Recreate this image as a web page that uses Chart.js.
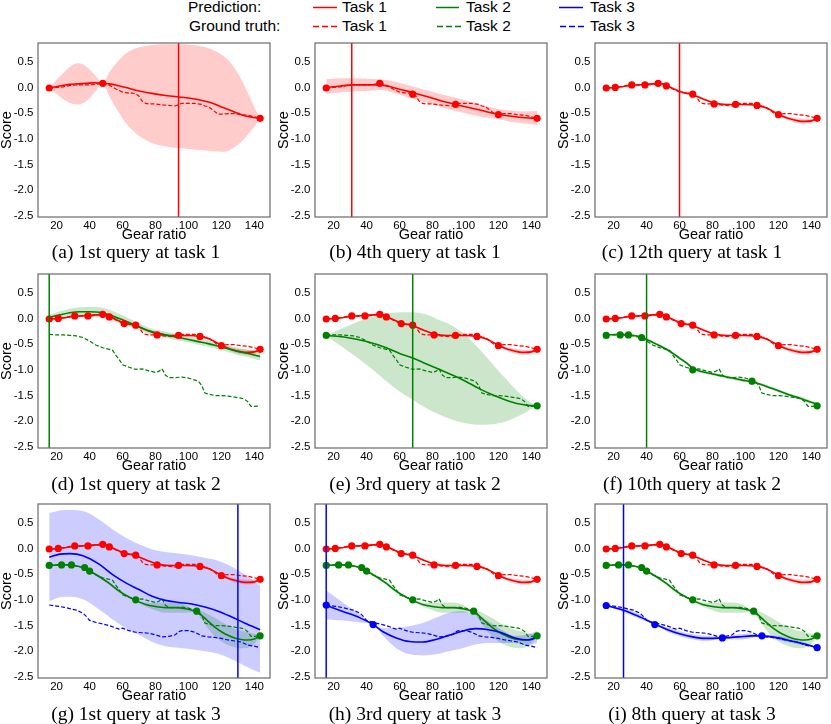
<!DOCTYPE html>
<html><head><meta charset="utf-8">
<script src="https://cdn.jsdelivr.net/npm/chart.js@4.4.1/dist/chart.umd.min.js"></script>
<style>
body{margin:0;width:831px;height:724px;overflow:hidden;background:#fff;position:relative;font-family:"Liberation Sans",Arial,sans-serif}
canvas{position:absolute}
.cap{position:absolute;font-family:"Liberation Serif","Times New Roman",serif;font-size:19.5px;line-height:1;transform:translate(-50%,-50%);white-space:nowrap;color:#000}
.leg{position:absolute;font-size:15.5px;line-height:1;transform:translateY(-50%);white-space:nowrap;color:#000}
svg{position:absolute}
</style></head><body>
<div class="leg" style="left:188px;top:7px">Prediction:</div>
<div class="leg" style="left:189px;top:26px">Ground truth:</div>
<div class="leg" style="left:342px;top:7px">Task 1</div>
<div class="leg" style="left:466px;top:7px">Task 2</div>
<div class="leg" style="left:590px;top:7px">Task 3</div>
<div class="leg" style="left:342px;top:26px">Task 1</div>
<div class="leg" style="left:466px;top:26px">Task 2</div>
<div class="leg" style="left:590px;top:26px">Task 3</div>
<svg style="left:0;top:0" width="831" height="36">
<line x1="313" y1="7.5" x2="337" y2="7.5" stroke="#ff0000" stroke-width="1.5"/>
<line x1="436" y1="7.5" x2="459" y2="7.5" stroke="#008000" stroke-width="1.5"/>
<line x1="559" y1="7.5" x2="583" y2="7.5" stroke="#0000ff" stroke-width="1.5"/>
<line x1="313" y1="26.5" x2="339" y2="26.5" stroke="#ff0000" stroke-width="1.5" stroke-dasharray="6,3"/>
<line x1="437" y1="26.5" x2="461" y2="26.5" stroke="#008000" stroke-width="1.5" stroke-dasharray="6,3"/>
<line x1="560" y1="26.5" x2="584" y2="26.5" stroke="#0000ff" stroke-width="1.5" stroke-dasharray="6,3"/>
</svg>
<script>
// ---------- axis ticks ----------
const xTicks = [20, 40, 60, 80, 100, 120, 140];
const yTicks = [-2.5, -2, -1.5, -1, -0.5, 0, 0.5];

// ---------- ground truth ----------
const gt1X = [15.5, 20, 24, 28, 32, 36, 40, 44, 48, 50, 52, 54, 56, 58, 60, 62, 64, 66, 68, 70, 72, 74, 76, 80, 84, 88, 92, 94, 96, 100, 104, 108, 110, 112, 114, 116, 118, 120, 124, 128, 132, 136, 140, 143.5];
const gt1Y = [-0.01, 0.0, 0.01, 0.04, 0.05, 0.05, 0.05, 0.06, 0.08, 0.07, 0.04, 0.01, -0.03, -0.06, -0.09, -0.1, -0.11, -0.11, -0.12, -0.17, -0.27, -0.31, -0.32, -0.32, -0.34, -0.35, -0.36, -0.33, -0.31, -0.31, -0.31, -0.33, -0.36, -0.37, -0.42, -0.47, -0.52, -0.52, -0.51, -0.51, -0.53, -0.54, -0.57, -0.6];
const gt2X = [15.5, 20, 24, 28, 32, 36, 40, 44, 48, 52, 54, 56, 58, 60, 64, 68, 72, 76, 80, 82, 84, 86, 88, 92, 96, 100, 104, 106, 108, 110, 112, 116, 120, 124, 128, 132, 134, 136, 138, 140, 143.5];
const gt2Y = [-0.31, -0.32, -0.32, -0.33, -0.34, -0.37, -0.44, -0.52, -0.57, -0.6, -0.62, -0.72, -0.8, -0.9, -0.95, -0.99, -0.98, -1.02, -1.05, -1.03, -0.98, -1.1, -1.15, -1.15, -1.14, -1.16, -1.2, -1.22, -1.3, -1.45, -1.47, -1.5, -1.5, -1.51, -1.53, -1.55, -1.57, -1.62, -1.71, -1.71, -1.7];
const gt3X = [15.5, 20, 24, 28, 32, 36, 38, 40, 44, 48, 52, 56, 58, 60, 64, 68, 72, 76, 80, 84, 88, 92, 94, 96, 100, 104, 108, 112, 116, 120, 124, 128, 132, 136, 140, 143.5];
const gt3Y = [-1.1, -1.12, -1.14, -1.17, -1.2, -1.26, -1.32, -1.4, -1.44, -1.47, -1.5, -1.55, -1.57, -1.55, -1.6, -1.63, -1.64, -1.65, -1.68, -1.72, -1.71, -1.68, -1.62, -1.6, -1.6, -1.63, -1.7, -1.72, -1.73, -1.75, -1.78, -1.8, -1.82, -1.88, -1.9, -1.93];

// ---------- task 1 predictions ----------
const predA1X = [15.5, 20, 24, 28, 33, 38, 43, 48, 52, 57, 62, 70, 77, 85, 93, 101, 109, 115, 121, 125, 129, 133, 137, 141, 143.5];
const predA1Y = [-0.01, 0.02, 0.04, 0.06, 0.07, 0.08, 0.09, 0.08, 0.07, 0.04, 0.0, -0.07, -0.11, -0.15, -0.18, -0.21, -0.26, -0.31, -0.39, -0.44, -0.49, -0.54, -0.57, -0.59, -0.6];
const predA1Up = [-0.01, 0.15, 0.28, 0.4, 0.47, 0.41, 0.25, 0.08, 0.3, 0.5, 0.66, 0.78, 0.82, 0.84, 0.84, 0.83, 0.79, 0.73, 0.62, 0.5, 0.33, 0.1, -0.17, -0.45, -0.6];
const predA1Lo = [-0.01, -0.12, -0.23, -0.3, -0.33, -0.27, -0.1, 0.08, -0.17, -0.45, -0.69, -0.94, -1.07, -1.14, -1.18, -1.2, -1.22, -1.24, -1.25, -1.22, -1.14, -1.03, -0.88, -0.72, -0.6];
const obsA1X = [15.5, 48, 143.5];
const obsA1Y = [-0.01, 0.08, -0.6];

const predB1X = [15.5, 24, 32, 40, 48, 56, 62, 68, 76, 84, 94, 102, 110, 120, 128, 136, 143.5];
const predB1Y = [0.0, 0.03, 0.05, 0.05, 0.05, 0.0, -0.05, -0.1, -0.17, -0.25, -0.33, -0.39, -0.45, -0.52, -0.56, -0.59, -0.6];
const predB1Up = [0.16, 0.18, 0.18, 0.17, 0.16, 0.12, 0.07, 0.02, -0.05, -0.12, -0.2, -0.27, -0.34, -0.42, -0.45, -0.47, -0.46];
const predB1Lo = [-0.12, -0.1, -0.08, -0.07, -0.05, -0.1, -0.16, -0.22, -0.29, -0.37, -0.46, -0.52, -0.57, -0.62, -0.67, -0.7, -0.73];
const obsB1X = [15.5, 48, 68, 94, 120, 143.5];
const obsB1Y = [-0.01, 0.08, -0.13, -0.33, -0.53, -0.6];

const pred1X = [15.5, 21, 26, 31, 35, 39, 44, 48, 52, 56, 61, 64, 68, 74, 81, 88, 94, 100, 107, 112, 116, 120, 124, 128, 132, 136, 140, 143.5];
const pred1Y = [-0.01, 0.0, 0.02, 0.04, 0.05, 0.06, 0.07, 0.08, 0.04, -0.02, -0.09, -0.11, -0.14, -0.22, -0.3, -0.33, -0.33, -0.33, -0.35, -0.39, -0.45, -0.52, -0.58, -0.62, -0.65, -0.66, -0.65, -0.6];
const pred1Up = [0.0, 0.01, 0.03, 0.05, 0.06, 0.07, 0.08, 0.09, 0.05, 0.0, -0.08, -0.09, -0.13, -0.2, -0.29, -0.31, -0.32, -0.31, -0.34, -0.37, -0.43, -0.51, -0.55, -0.58, -0.6, -0.61, -0.61, -0.59];
const pred1Lo = [-0.02, -0.01, 0.01, 0.03, 0.04, 0.05, 0.06, 0.07, 0.03, -0.04, -0.1, -0.13, -0.15, -0.24, -0.31, -0.35, -0.34, -0.35, -0.36, -0.41, -0.47, -0.53, -0.61, -0.66, -0.69, -0.7, -0.69, -0.61];
const obsC1X = [15.5, 21, 31, 39, 47, 52, 68, 81, 94, 107, 120, 143.5];
const obsC1Y = [-0.01, 0.0, 0.05, 0.05, 0.08, 0.03, -0.13, -0.32, -0.33, -0.35, -0.53, -0.6];
const obs1X = [15.5, 21, 31, 39, 48, 52, 61, 68, 81, 94, 107, 120, 143.5];
const obs1Y = [-0.01, 0.0, 0.05, 0.05, 0.08, 0.03, -0.1, -0.13, -0.32, -0.33, -0.35, -0.53, -0.6];

// ---------- task 2 predictions ----------
const predD2X = [15.5, 22, 28, 34, 40, 46, 52, 58, 64, 70, 76, 82, 88, 94, 100, 106, 112, 118, 124, 130, 136, 143.5];
const predD2Y = [0.02, 0.07, 0.11, 0.13, 0.13, 0.12, 0.07, 0.0, -0.08, -0.16, -0.24, -0.29, -0.33, -0.37, -0.41, -0.45, -0.49, -0.54, -0.59, -0.64, -0.68, -0.74];
const predD2Up = [0.07, 0.14, 0.19, 0.22, 0.23, 0.22, 0.17, 0.09, 0.0, -0.09, -0.18, -0.23, -0.27, -0.31, -0.35, -0.39, -0.43, -0.48, -0.53, -0.57, -0.61, -0.66];
const predD2Lo = [-0.03, 0.0, 0.03, 0.04, 0.03, 0.02, -0.03, -0.09, -0.16, -0.23, -0.3, -0.35, -0.39, -0.43, -0.47, -0.51, -0.55, -0.6, -0.65, -0.71, -0.75, -0.82];

const predE2X = [15.5, 28, 40, 52, 60, 68, 76, 84, 92, 100, 108, 116, 124, 132, 138, 143.5];
const predE2Y = [-0.33, -0.37, -0.45, -0.57, -0.68, -0.77, -0.88, -0.99, -1.1, -1.22, -1.36, -1.48, -1.58, -1.66, -1.69, -1.7];
const predE2Up = [-0.33, -0.15, 0.0, 0.09, 0.12, 0.12, 0.08, -0.03, -0.14, -0.32, -0.58, -0.87, -1.16, -1.43, -1.6, -1.7];
const predE2Lo = [-0.33, -0.62, -0.9, -1.22, -1.42, -1.58, -1.74, -1.87, -1.97, -2.04, -2.07, -2.06, -2.01, -1.9, -1.8, -1.7];
const obsE2X = [15.5, 143.5];
const obsE2Y = [-0.33, -1.7];

const predF2X = [15.5, 24, 29, 34, 37, 40, 44, 48, 52, 56, 60, 64, 68, 72, 76, 80, 86, 92, 98, 104, 110, 116, 122, 128, 134, 140, 143.5];
const predF2Y = [-0.32, -0.31, -0.32, -0.34, -0.37, -0.41, -0.47, -0.53, -0.6, -0.68, -0.77, -0.86, -0.96, -1.02, -1.05, -1.08, -1.12, -1.16, -1.2, -1.23, -1.29, -1.36, -1.43, -1.5, -1.56, -1.63, -1.67];
const predF2Up = [-0.31, -0.3, -0.31, -0.32, -0.36, -0.39, -0.44, -0.5, -0.57, -0.65, -0.74, -0.83, -0.95, -0.99, -1.02, -1.05, -1.09, -1.13, -1.17, -1.21, -1.26, -1.33, -1.4, -1.47, -1.53, -1.6, -1.66];
const predF2Lo = [-0.33, -0.32, -0.33, -0.36, -0.38, -0.43, -0.5, -0.56, -0.63, -0.71, -0.8, -0.89, -0.97, -1.05, -1.08, -1.11, -1.15, -1.19, -1.23, -1.25, -1.32, -1.39, -1.46, -1.53, -1.59, -1.66, -1.68];
const obsF2X = [15.5, 24, 29, 37, 68, 104, 143.5];
const obsF2Y = [-0.33, -0.32, -0.32, -0.37, -1.0, -1.22, -1.7];

const pred2X = [15.5, 22, 28, 32, 36, 40, 46, 52, 58, 62, 68, 74, 80, 86, 92, 98, 104, 108, 112, 116, 120, 124, 128, 132, 136, 140, 143.5];
const pred2Y = [-0.33, -0.32, -0.32, -0.34, -0.37, -0.44, -0.55, -0.68, -0.83, -0.91, -1.01, -1.09, -1.13, -1.15, -1.15, -1.17, -1.22, -1.3, -1.42, -1.53, -1.62, -1.69, -1.74, -1.77, -1.78, -1.76, -1.7];
const pred2Up = [-0.32, -0.31, -0.31, -0.32, -0.36, -0.42, -0.52, -0.65, -0.8, -0.89, -1.0, -1.05, -1.06, -1.05, -1.05, -1.09, -1.21, -1.22, -1.28, -1.35, -1.43, -1.5, -1.56, -1.6, -1.63, -1.66, -1.69];
const pred2Lo = [-0.34, -0.33, -0.33, -0.36, -0.38, -0.46, -0.58, -0.71, -0.86, -0.93, -1.02, -1.13, -1.2, -1.25, -1.25, -1.25, -1.23, -1.38, -1.56, -1.71, -1.81, -1.88, -1.92, -1.94, -1.93, -1.86, -1.71];
const obs2X = [15.5, 23, 29, 37, 40, 68, 105, 143.5];
const obs2Y = [-0.33, -0.32, -0.32, -0.37, -0.44, -1.0, -1.22, -1.7];

// ---------- task 3 predictions ----------
const predG3X = [15.5, 22, 28, 36, 46, 54, 62, 70, 78, 86, 94, 102, 110, 118, 126, 134, 143.5];
const predG3Y = [-0.17, -0.11, -0.1, -0.14, -0.31, -0.51, -0.67, -0.8, -0.93, -1.01, -1.05, -1.08, -1.14, -1.22, -1.33, -1.45, -1.58];
const predG3Up = [0.69, 0.74, 0.75, 0.73, 0.56, 0.37, 0.21, 0.08, -0.02, -0.07, -0.1, -0.13, -0.18, -0.24, -0.35, -0.5, -0.72];
const predG3Lo = [-1.03, -0.95, -0.94, -0.99, -1.19, -1.38, -1.55, -1.68, -1.82, -1.9, -1.93, -1.96, -2.0, -2.05, -2.15, -2.28, -2.42];

const predH3X = [15.5, 26, 36, 44, 50, 58, 66, 74, 82, 90, 98, 106, 114, 122, 130, 138, 143.5];
const predH3Y = [-1.11, -1.23, -1.35, -1.48, -1.62, -1.74, -1.81, -1.82, -1.77, -1.69, -1.61, -1.56, -1.58, -1.64, -1.74, -1.78, -1.73];
const predH3Up = [-0.82, -1.06, -1.29, -1.48, -1.55, -1.55, -1.51, -1.45, -1.35, -1.25, -1.22, -1.29, -1.42, -1.58, -1.7, -1.67, -1.6];
const predH3Lo = [-1.38, -1.4, -1.44, -1.48, -1.7, -1.94, -2.06, -2.08, -2.06, -2.0, -1.94, -1.87, -1.84, -1.84, -1.84, -1.88, -1.84];
const obsH3X = [15.5, 44];
const obsH3Y = [-1.1, -1.48];

const predI3X = [15.5, 26, 38, 45, 52, 60, 68, 76, 86, 96, 104, 110, 120, 128, 136, 143.5];
const predI3Y = [-1.11, -1.2, -1.36, -1.47, -1.57, -1.66, -1.72, -1.75, -1.74, -1.72, -1.7, -1.7, -1.74, -1.8, -1.86, -1.93];
const predI3Up = [-1.1, -1.16, -1.32, -1.46, -1.53, -1.61, -1.67, -1.7, -1.72, -1.67, -1.66, -1.69, -1.7, -1.76, -1.83, -1.92];
const predI3Lo = [-1.12, -1.24, -1.4, -1.48, -1.61, -1.71, -1.77, -1.8, -1.76, -1.77, -1.74, -1.71, -1.78, -1.84, -1.89, -1.94];
const obsI3X = [15.5, 45, 86, 110, 143.5];
const obsI3Y = [-1.11, -1.48, -1.74, -1.7, -1.93];

// ---------- queries & captions ----------
const queryX = [94, 31, 60, 15.5, 68, 40, 130, 15.5, 26];
const queryTask = [0, 0, 0, 1, 1, 1, 2, 2, 2];
const captions = ["(a) 1st query at task 1", "(b) 4th query at task 1", "(c) 12th query at task 1",
  "(d) 1st query at task 2", "(e) 3rd query at task 2", "(f) 10th query at task 2",
  "(g) 1st query at task 3", "(h) 3rd query at task 3", "(i) 8th query at task 3"];

// ---------- panel table built from arrays ----------
const T1c = {task:0, gt:[gt1X, gt1Y], pred:[pred1X, pred1Y, pred1Up, pred1Lo], obs:[obs1X, obs1Y]};
const T2g = {task:1, gt:[gt2X, gt2Y], pred:[pred2X, pred2Y, pred2Up, pred2Lo], obs:[obs2X, obs2Y]};
const panels = [
  [{task:0, gt:[gt1X, gt1Y], pred:[predA1X, predA1Y, predA1Up, predA1Lo], obs:[obsA1X, obsA1Y]}],
  [{task:0, gt:[gt1X, gt1Y], pred:[predB1X, predB1Y, predB1Up, predB1Lo], obs:[obsB1X, obsB1Y]}],
  [{task:0, gt:[gt1X, gt1Y], pred:[pred1X, pred1Y, pred1Up, pred1Lo], obs:[obsC1X, obsC1Y]}],
  [T1c, {task:1, gt:[gt2X, gt2Y], pred:[predD2X, predD2Y, predD2Up, predD2Lo], obs:null}],
  [T1c, {task:1, gt:[gt2X, gt2Y], pred:[predE2X, predE2Y, predE2Up, predE2Lo], obs:[obsE2X, obsE2Y]}],
  [T1c, {task:1, gt:[gt2X, gt2Y], pred:[predF2X, predF2Y, predF2Up, predF2Lo], obs:[obsF2X, obsF2Y]}],
  [T1c, T2g, {task:2, gt:[gt3X, gt3Y], pred:[predG3X, predG3Y, predG3Up, predG3Lo], obs:null}],
  [T1c, T2g, {task:2, gt:[gt3X, gt3Y], pred:[predH3X, predH3Y, predH3Up, predH3Lo], obs:[obsH3X, obsH3Y]}],
  [T1c, T2g, {task:2, gt:[gt3X, gt3Y], pred:[predI3X, predI3Y, predI3Up, predI3Lo], obs:[obsI3X, obsI3Y]}]
];

const COL = ['#ff0000', '#008000', '#0000ff'];
const BAND = ['rgba(255,0,0,0.2)', 'rgba(0,128,0,0.2)', 'rgba(0,0,255,0.2)'];
const colLeft = [0, 277, 557];
const capX = [136, 415, 692];
const rowTop = [39, 270, 500];
const capY = [252, 484, 714];

Chart.defaults.font.family = "'Liberation Sans', Arial, sans-serif";

function pts(xs, ys) { return xs.map((x, i) => ({x: x, y: ys[i]})); }

function buildDatasets(layers) {
  const ds = [];
  layers.forEach(L => {
    const t = L.task;
    const [px, py, pu, pl] = L.pred;
    const upIdx = ds.length;
    ds.push({data: pts(px, pu), borderColor: 'rgba(0,0,0,0)', borderWidth: 0, pointRadius: 0, fill: false, cubicInterpolationMode: 'monotone', order: 40 - t});
    ds.push({data: pts(px, pl), borderColor: 'rgba(0,0,0,0)', borderWidth: 0, pointRadius: 0, fill: upIdx, backgroundColor: BAND[t], cubicInterpolationMode: 'monotone', order: 40 - t});
    ds.push({data: pts(L.gt[0], L.gt[1]), borderColor: COL[t], borderWidth: 1.2, borderDash: [4, 2], pointRadius: 0, fill: false, tension: 0, order: 30 - t});
    ds.push({data: pts(px, py), borderColor: COL[t], borderWidth: 1.6, pointRadius: 0, fill: false, cubicInterpolationMode: 'monotone', order: 20 - t});
    if (L.obs) ds.push({data: pts(L.obs[0], L.obs[1]), showLine: false, pointRadius: 3.6, pointBackgroundColor: COL[t], pointBorderWidth: 0, borderColor: COL[t], order: 10 - t});
  });
  return ds;
}

function makePlugins(qx, qcolor) {
  return [{
    id: 'queryLine',
    afterDatasetsDraw(chart) {
      const a = chart.chartArea, x = chart.scales.x.getPixelForValue(qx), ctx = chart.ctx;
      ctx.save(); ctx.strokeStyle = qcolor; ctx.lineWidth = 1.5;
      ctx.beginPath(); ctx.moveTo(x, a.top); ctx.lineTo(x, a.bottom); ctx.stroke(); ctx.restore();
    }
  }, {
    id: 'frame',
    afterDraw(chart) {
      const a = chart.chartArea, ctx = chart.ctx;
      ctx.save(); ctx.strokeStyle = '#6a6a6a'; ctx.lineWidth = 1.2;
      ctx.strokeRect(a.left, a.top, a.right - a.left, a.bottom - a.top); ctx.restore();
    }
  }];
}

function noPad(s) { s.paddingTop = 0; s.paddingBottom = 0; s.paddingLeft = 0; s.paddingRight = 0; }

panels.forEach((layers, i) => {
  const r = Math.floor(i / 3), c = i % 3;
  const cv = document.createElement('canvas');
  cv.width = 274; cv.height = 205;
  cv.style.left = colLeft[c] + 'px'; cv.style.top = rowTop[r] + 'px';
  document.body.appendChild(cv);
  const cap = document.createElement('div');
  cap.className = 'cap'; cap.textContent = captions[i];
  cap.style.left = capX[c] + 'px'; cap.style.top = capY[r] + 'px';
  document.body.appendChild(cap);

  new Chart(cv, {
    type: 'line',
    data: {datasets: buildDatasets(layers)},
    plugins: makePlugins(queryX[i], COL[queryTask[i]]),
    options: {
      responsive: false, animation: false,
      layout: {padding: {top: 2, right: 1, left: 0, bottom: 0}},
      plugins: {legend: {display: false}, tooltip: {enabled: false}},
      scales: {
        x: {
          type: 'linear', min: 8.7, max: 149.5,
          grid: {display: false, drawTicks: false}, border: {display: false},
          afterBuildTicks: s => { s.ticks = xTicks.map(v => ({value: v})); },
          afterFit: s => { s.height = 27; noPad(s); },
          ticks: {padding: 2, font: {size: 11.5}, color: '#000', maxRotation: 0, autoSkip: false},
          title: {display: true, text: 'Gear ratio', font: {size: 14.5}, color: '#000', padding: 0}
        },
        y: {
          type: 'linear', min: -2.52, max: 0.865,
          grid: {display: false, drawTicks: false}, border: {display: false},
          afterBuildTicks: s => { s.ticks = yTicks.map(v => ({value: v})); },
          afterFit: s => { s.width = 38; noPad(s); },
          ticks: {padding: 4.5, font: {size: 11.5}, color: '#000', autoSkip: false, callback: v => Number(v).toFixed(1)},
          title: {display: true, text: 'Score', font: {size: 14.5, lineHeight: 1}, color: '#000', padding: 0}
        }
      }
    }
  });
});
</script>
</body></html>
